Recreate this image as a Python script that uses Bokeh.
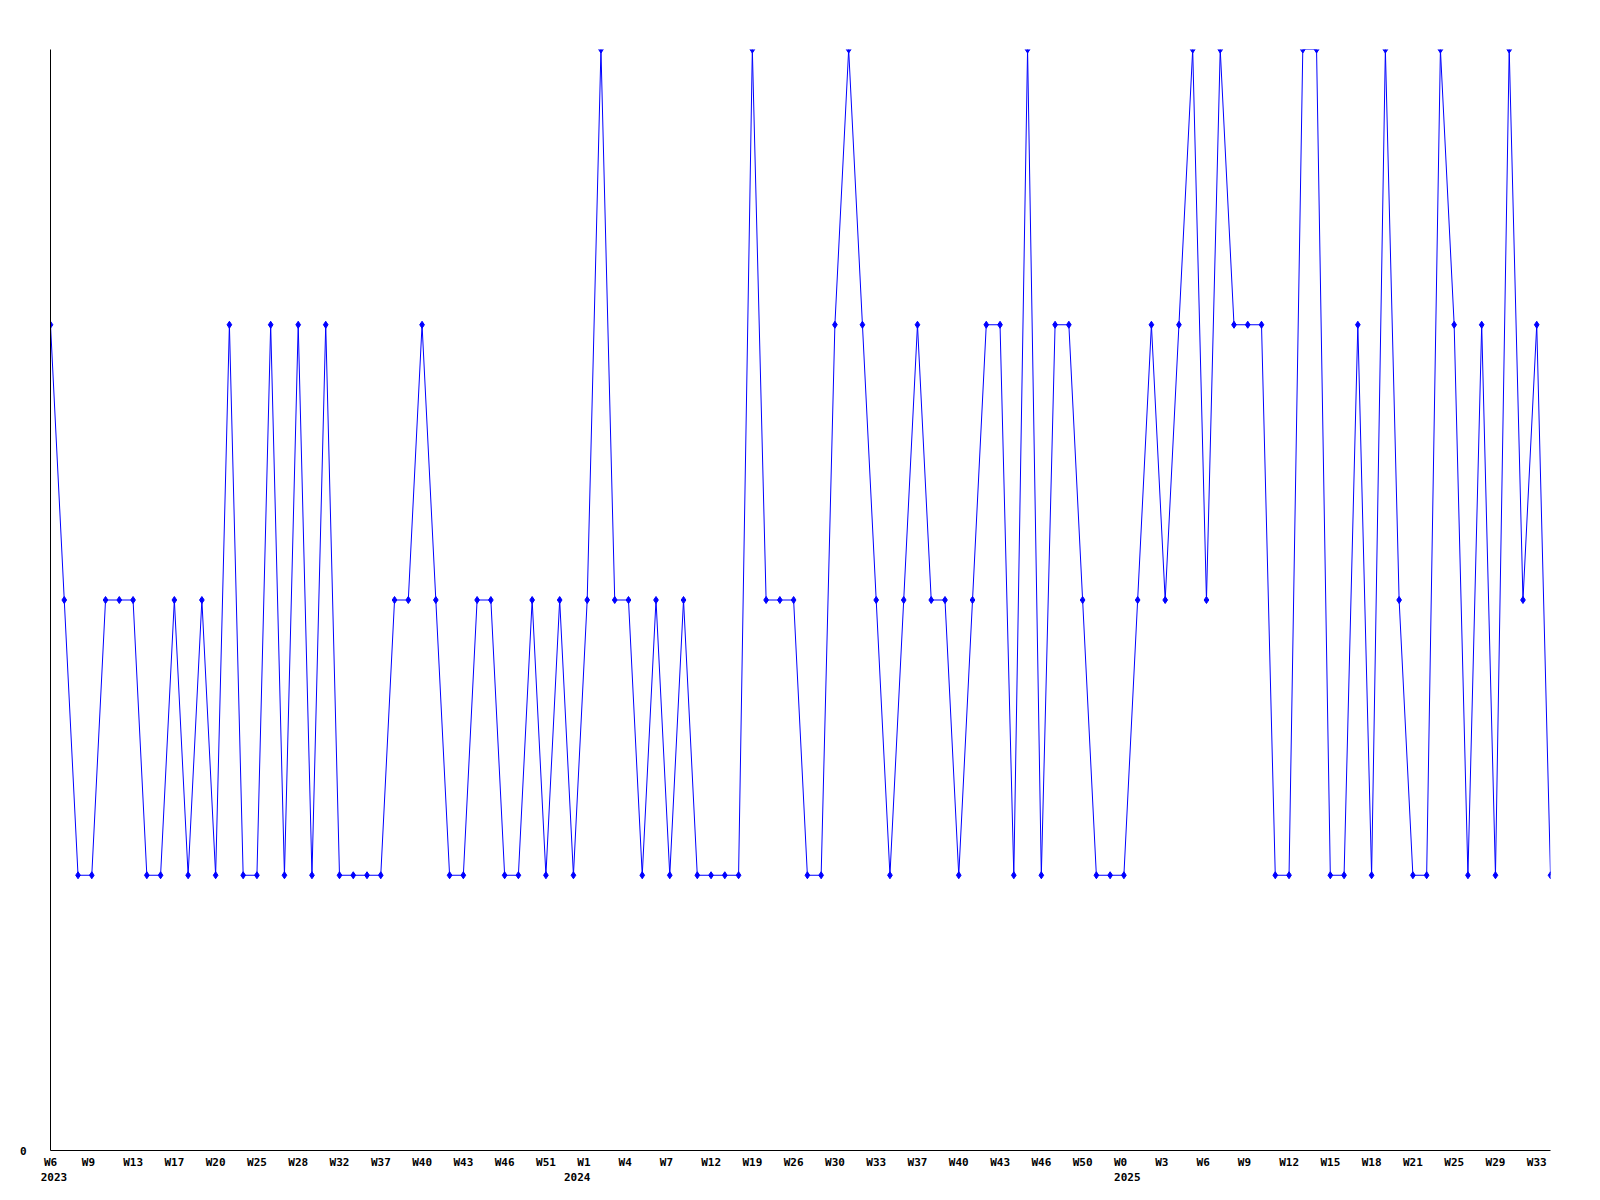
from bokeh.plotting import figure
from bokeh.models import Range1d, FixedTicker, LinearAxis
from bokeh.embed import file_html
from bokeh.resources import INLINE

# weekly samples (one point per sample, plotted by sample order)
values = [3, 2, 1, 1, 2, 2, 2, 1, 1, 2,
          1, 2, 1, 3, 1, 1, 3, 1, 3, 1,
          3, 1, 1, 1, 1, 2, 2, 3, 2, 1,
          1, 2, 2, 1, 1, 2, 1, 2, 1, 2,
          4, 2, 2, 1, 2, 1, 2, 1, 1, 1,
          1, 4, 2, 2, 2, 1, 1, 3, 4, 3,
          2, 1, 2, 3, 2, 2, 1, 2, 3, 3,
          1, 4, 1, 3, 3, 2, 1, 1, 1, 2,
          3, 2, 3, 4, 2, 4, 3, 3, 3, 1,
          1, 4, 4, 1, 1, 3, 1, 4, 2, 1,
          1, 4, 3, 1, 3, 1, 4, 2, 3, 1]

week_labels = ["W6", "W9", "W13", "W17", "W20", "W25", "W28", "W32", "W37", "W40",
               "W43", "W46", "W51",
               "W1", "W4", "W7", "W12", "W19", "W26", "W30", "W33", "W37", "W40",
               "W43", "W46", "W50",
               "W0", "W3", "W6", "W9", "W12", "W15", "W18", "W21", "W25", "W29", "W33"]
label_step = 3
year_labels = ["2023", "2024", "2025"]
year_label_at = [0, 13, 26]   # index into week_labels
y_max = 4

xs = list(range(len(values)))
tick_x = [i * label_step for i in range(len(week_labels))]
year_x = [tick_x[i] for i in year_label_at]

W, H = 1600, 1200
FL, FT, FW, FH = 50, 49, 1500, 1101
X0, X1 = 0, len(values) - 1
ppu = FW / (X1 - X0)   # pixels per sample
CHAR_W = 6.7           # monospace glyph width at 11px


def left_anchor(x, label, pad_px=-10.0):
    """tick position that puts a centred label's left edge pad_px from its point"""
    return max(X0, x + (len(label) * CHAR_W / 2 + pad_px) / ppu)


# year labels: left-aligned with week label, except 2024 which ends where its week label ends
year_pad = [-10.0, -10.0 - (4 - 2) * CHAR_W, -10.0]

p = figure(width=W, height=H, output_backend="svg", toolbar_location=None,
           x_range=Range1d(X0, X1), y_range=Range1d(0, y_max),
           x_axis_type=None, y_axis_type=None,
           min_border_left=FL, min_border_top=FT,
           min_border_right=W - FL - FW, min_border_bottom=H - FT - FH)
p.grid.visible = False
p.outline_line_color = None
p.background_fill_color = "white"
p.border_fill_color = "white"

common = dict(major_tick_line_color=None, minor_tick_line_color=None,
              major_tick_out=0, major_tick_in=0, minor_tick_out=0, minor_tick_in=0,
              major_label_text_font="DejaVu Sans Mono",
              major_label_text_font_style="bold",
              major_label_text_font_size="11px",
              major_label_text_color="black")

yaxis = LinearAxis(ticker=FixedTicker(ticks=[0]), axis_line_color="black",
                   axis_line_width=1, major_label_standoff=24, **common)
p.add_layout(yaxis, "left")

wk_pos = [left_anchor(x, t) for x, t in zip(tick_x, week_labels)]
week_axis = LinearAxis(ticker=FixedTicker(ticks=wk_pos), axis_line_color="black",
                       axis_line_width=1, major_label_standoff=5,
                       major_label_overrides={x: t for x, t in zip(wk_pos, week_labels)},
                       **common)
p.add_layout(week_axis, "below")

yr_pos = [left_anchor(x, t, pad) for x, t, pad in zip(year_x, year_labels, year_pad)]
year_axis = LinearAxis(ticker=FixedTicker(ticks=yr_pos),
                       axis_line_color=None, major_label_standoff=1,
                       major_label_overrides={x: t for x, t in zip(yr_pos, year_labels)},
                       **common)
p.add_layout(year_axis, "below")

p.line(xs, values, line_color="#0000ff", line_width=1)
p.scatter(xs, values, marker="diamond", size=7, fill_color="#0000ff", line_color="#0000ff")

open("out.html", "w").write(file_html(p, INLINE))
